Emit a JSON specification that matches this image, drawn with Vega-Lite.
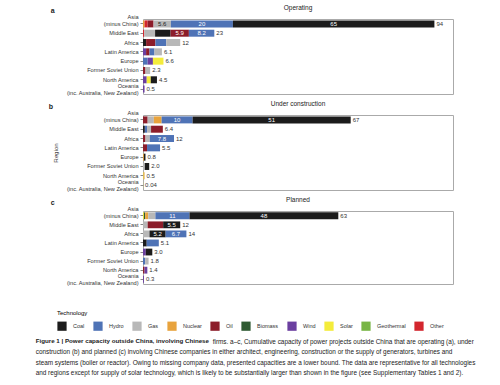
{
  "$schema": "https://vega.github.io/schema/vega-lite/v6.json",
  "background": "white",
  "padding": {"left": 35, "right": 5, "top": 4, "bottom": 2},
  "config": {
    "font": "Liberation Sans",
    "view": {"stroke": "#aaaaaa", "strokeWidth": 1},
    "axis": {"labelColor": "#333", "titleColor": "#333", "labelFontSize": 6, "titleFontSize": 6.2, "titleFontWeight": "normal", "tickColor": "#888", "domain": false},
    "title": {"fontSize": 7, "fontWeight": "normal", "color": "#222"},
    "concat": {"spacing": 3}
  },
  "data": {"values": [
    {"status": "Operating", "region": "Asia", "tech": "Nuclear", "GW": 0.5, "Total": "94"},
    {"status": "Operating", "region": "Asia", "tech": "Other", "GW": 1.0, "Total": "94"},
    {"status": "Operating", "region": "Asia", "tech": "Oil", "GW": 1.9, "Total": "94"},
    {"status": "Operating", "region": "Asia", "tech": "Gas", "GW": 5.6, "Total": "94"},
    {"status": "Operating", "region": "Asia", "tech": "Hydro", "GW": 20, "Total": "94"},
    {"status": "Operating", "region": "Asia", "tech": "Coal", "GW": 65, "Total": "94"},
    {"status": "Operating", "region": "Middle East", "tech": "Other", "GW": 0.4, "Total": "23"},
    {"status": "Operating", "region": "Middle East", "tech": "Gas", "GW": 3.5, "Total": "23"},
    {"status": "Operating", "region": "Middle East", "tech": "Coal", "GW": 5.0, "Total": "23"},
    {"status": "Operating", "region": "Middle East", "tech": "Oil", "GW": 5.9, "Total": "23"},
    {"status": "Operating", "region": "Middle East", "tech": "Hydro", "GW": 8.2, "Total": "23"},
    {"status": "Operating", "region": "Africa", "tech": "Coal", "GW": 1.0, "Total": "12"},
    {"status": "Operating", "region": "Africa", "tech": "Oil", "GW": 3.0, "Total": "12"},
    {"status": "Operating", "region": "Africa", "tech": "Hydro", "GW": 3.5, "Total": "12"},
    {"status": "Operating", "region": "Africa", "tech": "Gas", "GW": 4.5, "Total": "12"},
    {"status": "Operating", "region": "Latin America", "tech": "Wind", "GW": 1.0, "Total": "6.1"},
    {"status": "Operating", "region": "Latin America", "tech": "Oil", "GW": 1.1, "Total": "6.1"},
    {"status": "Operating", "region": "Latin America", "tech": "Hydro", "GW": 1.6, "Total": "6.1"},
    {"status": "Operating", "region": "Latin America", "tech": "Gas", "GW": 2.4, "Total": "6.1"},
    {"status": "Operating", "region": "Europe", "tech": "Hydro", "GW": 1.5, "Total": "6.6"},
    {"status": "Operating", "region": "Europe", "tech": "Wind", "GW": 1.7, "Total": "6.6"},
    {"status": "Operating", "region": "Europe", "tech": "Solar", "GW": 3.4, "Total": "6.6"},
    {"status": "Operating", "region": "Former Soviet Union", "tech": "Oil", "GW": 0.8, "Total": "2.3"},
    {"status": "Operating", "region": "Former Soviet Union", "tech": "Gas", "GW": 1.5, "Total": "2.3"},
    {"status": "Operating", "region": "North America", "tech": "Wind", "GW": 1.2, "Total": "4.5"},
    {"status": "Operating", "region": "North America", "tech": "Solar", "GW": 1.3, "Total": "4.5"},
    {"status": "Operating", "region": "North America", "tech": "Coal", "GW": 2.0, "Total": "4.5"},
    {"status": "Operating", "region": "Oceania", "tech": "Wind", "GW": 0.5, "Total": "0.5"},

    {"status": "Under construction", "region": "Asia", "tech": "Oil", "GW": 1.5, "Total": "67"},
    {"status": "Under construction", "region": "Asia", "tech": "Gas", "GW": 2.0, "Total": "67"},
    {"status": "Under construction", "region": "Asia", "tech": "Nuclear", "GW": 2.5, "Total": "67"},
    {"status": "Under construction", "region": "Asia", "tech": "Hydro", "GW": 10, "Total": "67"},
    {"status": "Under construction", "region": "Asia", "tech": "Coal", "GW": 51, "Total": "67"},
    {"status": "Under construction", "region": "Middle East", "tech": "Coal", "GW": 0.6, "Total": "6.4"},
    {"status": "Under construction", "region": "Middle East", "tech": "Hydro", "GW": 0.7, "Total": "6.4"},
    {"status": "Under construction", "region": "Middle East", "tech": "Gas", "GW": 1.3, "Total": "6.4"},
    {"status": "Under construction", "region": "Middle East", "tech": "Oil", "GW": 3.8, "Total": "6.4"},
    {"status": "Under construction", "region": "Africa", "tech": "Oil", "GW": 0.8, "Total": "12"},
    {"status": "Under construction", "region": "Africa", "tech": "Gas", "GW": 1.4, "Total": "12"},
    {"status": "Under construction", "region": "Africa", "tech": "Hydro", "GW": 7.8, "Total": "12"},
    {"status": "Under construction", "region": "Latin America", "tech": "Oil", "GW": 1.3, "Total": "5.5"},
    {"status": "Under construction", "region": "Latin America", "tech": "Hydro", "GW": 4.2, "Total": "5.5"},
    {"status": "Under construction", "region": "Europe", "tech": "Nuclear", "GW": 0.3, "Total": "0.8"},
    {"status": "Under construction", "region": "Europe", "tech": "Coal", "GW": 0.5, "Total": "0.8"},
    {"status": "Under construction", "region": "Former Soviet Union", "tech": "Gas", "GW": 0.6, "Total": "2.0"},
    {"status": "Under construction", "region": "Former Soviet Union", "tech": "Coal", "GW": 1.4, "Total": "2.0"},
    {"status": "Under construction", "region": "North America", "tech": "Solar", "GW": 0.2, "Total": "0.5"},
    {"status": "Under construction", "region": "North America", "tech": "Nuclear", "GW": 0.3, "Total": "0.5"},
    {"status": "Under construction", "region": "Oceania", "tech": "Solar", "GW": 0.04, "Total": "0.04"},

    {"status": "Planned", "region": "Asia", "tech": "Solar", "GW": 0.3, "Total": "63"},
    {"status": "Planned", "region": "Asia", "tech": "Biomass", "GW": 0.4, "Total": "63"},
    {"status": "Planned", "region": "Asia", "tech": "Nuclear", "GW": 1.0, "Total": "63"},
    {"status": "Planned", "region": "Asia", "tech": "Gas", "GW": 2.3, "Total": "63"},
    {"status": "Planned", "region": "Asia", "tech": "Hydro", "GW": 11, "Total": "63"},
    {"status": "Planned", "region": "Asia", "tech": "Coal", "GW": 48, "Total": "63"},
    {"status": "Planned", "region": "Middle East", "tech": "Gas", "GW": 1.5, "Total": "12"},
    {"status": "Planned", "region": "Middle East", "tech": "Oil", "GW": 5.0, "Total": "12"},
    {"status": "Planned", "region": "Middle East", "tech": "Coal", "GW": 5.5, "Total": "12"},
    {"status": "Planned", "region": "Africa", "tech": "Gas", "GW": 2.1, "Total": "14"},
    {"status": "Planned", "region": "Africa", "tech": "Coal", "GW": 5.2, "Total": "14"},
    {"status": "Planned", "region": "Africa", "tech": "Hydro", "GW": 6.7, "Total": "14"},
    {"status": "Planned", "region": "Latin America", "tech": "Coal", "GW": 1.2, "Total": "5.1"},
    {"status": "Planned", "region": "Latin America", "tech": "Hydro", "GW": 3.9, "Total": "5.1"},
    {"status": "Planned", "region": "Europe", "tech": "Wind", "GW": 0.9, "Total": "3.0"},
    {"status": "Planned", "region": "Europe", "tech": "Coal", "GW": 2.1, "Total": "3.0"},
    {"status": "Planned", "region": "Former Soviet Union", "tech": "Hydro", "GW": 0.7, "Total": "1.8"},
    {"status": "Planned", "region": "Former Soviet Union", "tech": "Gas", "GW": 1.1, "Total": "1.8"},
    {"status": "Planned", "region": "North America", "tech": "Oil", "GW": 0.5, "Total": "1.4"},
    {"status": "Planned", "region": "North America", "tech": "Wind", "GW": 0.9, "Total": "1.4"},
    {"status": "Planned", "region": "Oceania", "tech": "Wind", "GW": 0.3, "Total": "0.3"}
  ]},
  "title": {
    "text": "Figure 1 | Power capacity outside China, involving Chinese",
    "subtitle": [
      "construction (b) and planned (c) involving Chinese companies in either architect, engineering, construction or the supply of generators, turbines and",
      "steam systems (boiler or reactor). Owing to missing company data, presented capacities are a lower bound. The data are representative for all technologies",
      "and regions except for supply of solar technology, which is likely to be substantially larger than shown in the figure (see Supplementary Tables 1 and 2)."
    ],
    "orient": "bottom",
    "anchor": "start",
    "frame": "bounds",
    "dx": -13,
    "fontSize": 6.2,
    "fontWeight": "bold",
    "subtitleFontSize": 6.4,
    "subtitleColor": "#222",
    "subtitlePadding": 5,
    "subtitleLineHeight": 10.3,
    "offset": -7.5
  },
  "vconcat": [{
    "title": {
      "text": "firms. a–c, Cumulative capacity of power projects outside China that are operating (a), under",
      "orient": "bottom", "anchor": "start", "frame": "bounds", "dx": 164, "offset": 53,
      "fontSize": 6.4, "fontWeight": "normal", "color": "#222"
    },
    "vconcat": [
    {
      "title": {"text": "a", "anchor": "start", "frame": "bounds", "fontWeight": "bold", "fontSize": 7, "offset": -9, "dx": -15},
      "vconcat": [{
        "width": 310, "height": 75,
        "title": {"text": "Operating", "anchor": "middle", "fontSize": 6.5, "offset": 3},
        "transform": [
          {"filter": "datum.status === 'Operating'"},
          {"stack": "GW", "groupby": ["region"], "sort": [{"field": "GW", "order": "ascending"}], "as": ["x0", "x1"]}
        ],
        "encoding": {
          "y": {"field": "region", "type": "nominal",
            "sort": ["Asia", "Middle East", "Africa", "Latin America", "Europe", "Former Soviet Union", "North America", "Oceania"],
            "scale": {"paddingInner": 0.25, "paddingOuter": 0.15},
            "axis": {"title": null, "tickSize": 3, "labelPadding": 2, "labelLineHeight": 7, "labelFontSize": 5.6,
              "labelOffset": {"condition": [{"test": "datum.value === 'Asia'", "value": -6.5}, {"test": "datum.value === 'Oceania'", "value": -3.5}], "value": 0},
              "labelExpr": "datum.value === 'Asia' ? ['Asia', '(minus China)'] : datum.value === 'Oceania' ? ['Oceania', '(inc. Australia, New Zealand)'] : datum.label"}}
        },
        "layer": [
          {"mark": {"type": "bar"},
           "encoding": {
             "x": {"field": "x0", "type": "quantitative", "scale": {"domain": [0, 100]}, "axis": null},
             "x2": {"field": "x1"},
             "color": {"field": "tech", "type": "nominal", "title": "Technology",
               "scale": {"domain": ["Coal", "Hydro", "Gas", "Nuclear", "Oil", "Biomass", "Wind", "Solar", "Geothermal", "Other"],
                         "range": ["#1c1c1c", "#4f73b6", "#b8b8b8", "#e8a33d", "#8c1d2a", "#2f5a32", "#6b3fa0", "#f4ec3b", "#78b545", "#d3262e"]},
               "legend": {"orient": "none", "legendX": -86, "legendY": 291, "direction": "horizontal", "symbolType": "square", "symbolSize": 85, "symbolStrokeWidth": 0, "labelFontSize": 5.5, "titleFontSize": 6, "titleFontWeight": "normal", "columnPadding": 8, "labelOffset": 6, "titlePadding": 5, "labelColor": "#333"}}
           }},
          {"transform": [{"filter": "datum.GW >= 5.1"}, {"calculate": "(datum.x0 + datum.x1) / 2", "as": "xm"}],
           "mark": {"type": "text", "fontSize": 6},
           "encoding": {
             "x": {"field": "xm", "type": "quantitative", "axis": null},
             "text": {"field": "GW", "type": "quantitative", "format": ".2~r"},
             "color": {"condition": {"test": "datum.tech === 'Gas'", "value": "#222"}, "value": "white"}
           }},
          {"transform": [{"aggregate": [{"op": "max", "field": "x1", "as": "end"}], "groupby": ["region", "Total"]}],
           "mark": {"type": "text", "fontSize": 6, "align": "left", "dx": 2, "color": "#333"},
           "encoding": {
             "x": {"field": "end", "type": "quantitative", "axis": null},
             "text": {"field": "Total"}
           }}
        ]
      }]
    },
    {
      "title": {"text": "b", "anchor": "start", "frame": "bounds", "fontWeight": "bold", "fontSize": 7, "offset": -9, "dx": -3},
      "vconcat": [{
        "width": 310, "height": 75,
        "title": {"text": "Under construction", "anchor": "middle", "fontSize": 6.5, "offset": 3},
        "transform": [
          {"filter": "datum.status === 'Under construction'"},
          {"stack": "GW", "groupby": ["region"], "sort": [{"field": "GW", "order": "ascending"}], "as": ["x0", "x1"]}
        ],
        "encoding": {
          "y": {"field": "region", "type": "nominal",
            "sort": ["Asia", "Middle East", "Africa", "Latin America", "Europe", "Former Soviet Union", "North America", "Oceania"],
            "scale": {"paddingInner": 0.25, "paddingOuter": 0.15},
            "axis": {"title": "Region", "titlePadding": 8, "tickSize": 3, "labelPadding": 2, "labelLineHeight": 7, "labelFontSize": 5.6,
              "labelOffset": {"condition": [{"test": "datum.value === 'Asia'", "value": -6.5}, {"test": "datum.value === 'Oceania'", "value": -3.5}], "value": 0},
              "labelExpr": "datum.value === 'Asia' ? ['Asia', '(minus China)'] : datum.value === 'Oceania' ? ['Oceania', '(inc. Australia, New Zealand)'] : datum.label"}}
        },
        "layer": [
          {"mark": {"type": "bar"},
           "encoding": {
             "x": {"field": "x0", "type": "quantitative", "scale": {"domain": [0, 100]}, "axis": null},
             "x2": {"field": "x1"},
             "color": {"field": "tech", "type": "nominal", "title": "Technology",
               "scale": {"domain": ["Coal", "Hydro", "Gas", "Nuclear", "Oil", "Biomass", "Wind", "Solar", "Geothermal", "Other"],
                         "range": ["#1c1c1c", "#4f73b6", "#b8b8b8", "#e8a33d", "#8c1d2a", "#2f5a32", "#6b3fa0", "#f4ec3b", "#78b545", "#d3262e"]},
               "legend": {"orient": "none", "legendX": -86, "legendY": 291, "direction": "horizontal", "symbolType": "square", "symbolSize": 85, "symbolStrokeWidth": 0, "labelFontSize": 5.5, "titleFontSize": 6, "titleFontWeight": "normal", "columnPadding": 8, "labelOffset": 6, "titlePadding": 5, "labelColor": "#333"}}
           }},
          {"transform": [{"filter": "datum.GW >= 5.1"}, {"calculate": "(datum.x0 + datum.x1) / 2", "as": "xm"}],
           "mark": {"type": "text", "fontSize": 6},
           "encoding": {
             "x": {"field": "xm", "type": "quantitative", "axis": null},
             "text": {"field": "GW", "type": "quantitative", "format": ".2~r"},
             "color": {"condition": {"test": "datum.tech === 'Gas'", "value": "#222"}, "value": "white"}
           }},
          {"transform": [{"aggregate": [{"op": "max", "field": "x1", "as": "end"}], "groupby": ["region", "Total"]}],
           "mark": {"type": "text", "fontSize": 6, "align": "left", "dx": 2, "color": "#333"},
           "encoding": {
             "x": {"field": "end", "type": "quantitative", "axis": null},
             "text": {"field": "Total"}
           }}
        ]
      }]
    },
    {
      "title": {"text": "c", "anchor": "start", "frame": "bounds", "fontWeight": "bold", "fontSize": 7, "offset": -9, "dx": -15},
      "vconcat": [{
        "width": 310, "height": 73,
        "title": {"text": "Planned", "anchor": "middle", "fontSize": 6.5, "offset": 3},
        "transform": [
          {"filter": "datum.status === 'Planned'"},
          {"stack": "GW", "groupby": ["region"], "sort": [{"field": "GW", "order": "ascending"}], "as": ["x0", "x1"]}
        ],
        "encoding": {
          "y": {"field": "region", "type": "nominal",
            "sort": ["Asia", "Middle East", "Africa", "Latin America", "Europe", "Former Soviet Union", "North America", "Oceania"],
            "scale": {"paddingInner": 0.25, "paddingOuter": 0.15},
            "axis": {"title": null, "tickSize": 3, "labelPadding": 2, "labelLineHeight": 7, "labelFontSize": 5.6,
              "labelOffset": {"condition": [{"test": "datum.value === 'Asia'", "value": -6.5}, {"test": "datum.value === 'Oceania'", "value": -3.5}], "value": 0},
              "labelExpr": "datum.value === 'Asia' ? ['Asia', '(minus China)'] : datum.value === 'Oceania' ? ['Oceania', '(inc. Australia, New Zealand)'] : datum.label"}}
        },
        "layer": [
          {"mark": {"type": "bar"},
           "encoding": {
             "x": {"field": "x0", "type": "quantitative", "scale": {"domain": [0, 100]},
               "axis": {"values": [0, 10, 20, 30, 40, 50, 60, 70, 80, 90, 100], "title": "Total power capacity (GW)", "grid": false, "tickSize": 3, "labelPadding": 2, "titlePadding": 4, "labelFontSize": 5.8}},
             "x2": {"field": "x1"},
             "color": {"field": "tech", "type": "nominal", "title": "Technology",
               "scale": {"domain": ["Coal", "Hydro", "Gas", "Nuclear", "Oil", "Biomass", "Wind", "Solar", "Geothermal", "Other"],
                         "range": ["#1c1c1c", "#4f73b6", "#b8b8b8", "#e8a33d", "#8c1d2a", "#2f5a32", "#6b3fa0", "#f4ec3b", "#78b545", "#d3262e"]},
               "legend": {"orient": "none", "legendX": -86, "legendY": 291, "direction": "horizontal", "symbolType": "square", "symbolSize": 85, "symbolStrokeWidth": 0, "labelFontSize": 5.5, "titleFontSize": 6, "titleFontWeight": "normal", "columnPadding": 8, "labelOffset": 6, "titlePadding": 5, "labelColor": "#333"}}
           }},
          {"transform": [{"filter": "datum.GW >= 5.1"}, {"calculate": "(datum.x0 + datum.x1) / 2", "as": "xm"}],
           "mark": {"type": "text", "fontSize": 6},
           "encoding": {
             "x": {"field": "xm", "type": "quantitative", "axis": null},
             "text": {"field": "GW", "type": "quantitative", "format": ".2~r"},
             "color": {"condition": {"test": "datum.tech === 'Gas'", "value": "#222"}, "value": "white"}
           }},
          {"transform": [{"aggregate": [{"op": "max", "field": "x1", "as": "end"}], "groupby": ["region", "Total"]}],
           "mark": {"type": "text", "fontSize": 6, "align": "left", "dx": 2, "color": "#333"},
           "encoding": {
             "x": {"field": "end", "type": "quantitative", "axis": null},
             "text": {"field": "Total"}
           }}
        ]
      }]
    }
    ]
  }]
}
